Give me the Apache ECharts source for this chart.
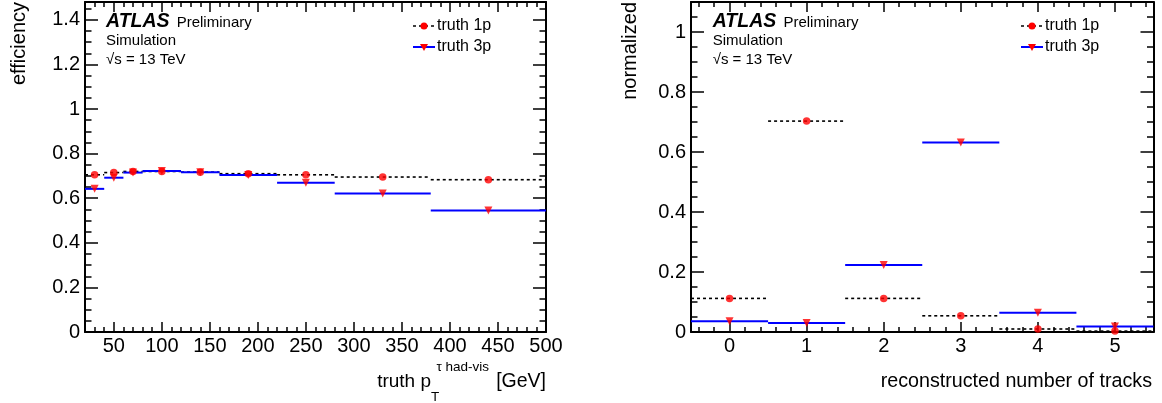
<!DOCTYPE html>
<html style="height: 100%">
<head>
    <meta charset="UTF-8">
    <script type="text/javascript" src="https://cdn.jsdelivr.net/npm/echarts@6/dist/echarts.min.js"></script>
    <style type="text/css">
        body {margin:0; padding:0; overflow:hidden; height: 100%; background: #fff}
    </style>
</head>
<body>
<div id="container" style="width:1162px;height:403px"></div>
<script>
    // left panel: efficiency vs truth pT
    var ptEdges = [20, 40, 60, 80, 120, 160, 220, 280, 380, 500];
    var ptCenters = [30, 50, 70, 100, 140, 190, 250, 330, 440];
    var eff1p = [0.705, 0.715, 0.72, 0.72, 0.717, 0.71, 0.705, 0.695, 0.683];
    var eff3p = [0.642, 0.692, 0.715, 0.722, 0.717, 0.704, 0.669, 0.621, 0.545];

    // right panel: normalized number of reconstructed tracks
    var trkEdges = [-0.5, 0.5, 1.5, 2.5, 3.5, 4.5, 5.5];
    var trkCenters = [0, 1, 2, 3, 4, 5];
    var norm1p = [0.112, 0.703, 0.112, 0.054, 0.01, 0.003];
    var norm3p = [0.036, 0.03, 0.223, 0.632, 0.064, 0.018];

    // ticks
    var ptMajor = [50, 100, 150, 200, 250, 300, 350, 400, 450, 500];
    var effMajor = [0, 0.2, 0.4, 0.6, 0.8, 1, 1.2, 1.4];
    var trkMajor = [0, 1, 2, 3, 4, 5];
    var normMajor = [0, 0.2, 0.4, 0.6, 0.8, 1];

    function steps(a, b, s) {
        var out = [];
        for (var i = 0; a + i * s <= b + 1e-9; i++) out.push(+(a + i * s).toFixed(4));
        return out;
    }
    var ptMinor = steps(30, 490, 10);
    var effMinor = steps(0, 1.45, 0.05);
    var trkMinor = steps(-0.4, 5.4, 0.2);
    var normMinor = steps(0, 1.1, 0.05);

    var FONT = '"Liberation Sans", Arial, sans-serif';

    function bins(edges, vals) {
        return vals.map(function (v, i) { return [edges[i], edges[i + 1], v]; });
    }
    function pts(xs, vals) {
        return vals.map(function (v, i) { return [xs[i], v]; });
    }
    function binRender(style) {
        return function (params, api) {
            var p0 = api.coord([api.value(0), api.value(2)]);
            var p1 = api.coord([api.value(1), api.value(2)]);
            return {type: 'line', shape: {x1: p0[0], y1: p0[1], x2: p1[0], y2: p1[1]}, style: style};
        };
    }
    var dashStyle = {stroke: '#000', lineWidth: 1.6, lineDash: [3, 3]};
    var blueStyle = {stroke: '#0000ff', lineWidth: 2};

    function xAxes(grid, min, max, major, minor) {
        var base = {gridIndex: grid, type: 'value', min: min, max: max, splitLine: {show: false}};
        return [
            Object.assign({}, base, {position: 'bottom',
                axisLine: {show: true, onZero: false, lineStyle: {color: '#000', width: 2}},
                axisTick: {show: true, inside: true, length: 10, customValues: major, lineStyle: {color: '#000', width: 1.5}},
                axisLabel: {show: true, customValues: major, color: '#000', fontSize: 20, fontFamily: FONT, margin: 4}}),
            Object.assign({}, base, {position: 'bottom',
                axisLine: {show: false, onZero: false},
                axisTick: {show: true, inside: true, length: 5, customValues: minor, lineStyle: {color: '#000', width: 1.5}},
                axisLabel: {show: false}}),
            Object.assign({}, base, {position: 'top',
                axisLine: {show: true, onZero: false, lineStyle: {color: '#000', width: 2}},
                axisTick: {show: true, inside: true, length: 10, customValues: major, lineStyle: {color: '#000', width: 1.5}},
                axisLabel: {show: false}}),
            Object.assign({}, base, {position: 'top',
                axisLine: {show: false, onZero: false},
                axisTick: {show: true, inside: true, length: 5, customValues: minor, lineStyle: {color: '#000', width: 1.5}},
                axisLabel: {show: false}})
        ];
    }
    function yAxes(grid, min, max, major, minor) {
        var base = {gridIndex: grid, type: 'value', min: min, max: max, splitLine: {show: false}};
        return [
            Object.assign({}, base, {position: 'left',
                axisLine: {show: true, onZero: false, lineStyle: {color: '#000', width: 2}},
                axisTick: {show: true, inside: true, length: 13, customValues: major, lineStyle: {color: '#000', width: 1.5}},
                axisLabel: {show: true, customValues: major, color: '#000', fontSize: 20, fontFamily: FONT, margin: 5}}),
            Object.assign({}, base, {position: 'left',
                axisLine: {show: false, onZero: false},
                axisTick: {show: true, inside: true, length: 6.5, customValues: minor, lineStyle: {color: '#000', width: 1.5}},
                axisLabel: {show: false}}),
            Object.assign({}, base, {position: 'right',
                axisLine: {show: true, onZero: false, lineStyle: {color: '#000', width: 2}},
                axisTick: {show: true, inside: true, length: 13, customValues: major, lineStyle: {color: '#000', width: 1.5}},
                axisLabel: {show: false}}),
            Object.assign({}, base, {position: 'right',
                axisLine: {show: false, onZero: false},
                axisTick: {show: true, inside: true, length: 6.5, customValues: minor, lineStyle: {color: '#000', width: 1.5}},
                axisLabel: {show: false}})
        ];
    }

    function txt(x, y, text, size, extra) {
        return {type: 'text', x: x, y: y, z: 100, style: Object.assign({
            text: text, fontSize: size, fontFamily: FONT, fill: '#000',
            align: 'left', verticalAlign: 'middle'}, extra || {})};
    }
    function atlasLabel(x) {
        return [
            txt(x, 21.5, 'ATLAS', 19.5, {fontWeight: 'bold', fontStyle: 'italic'}),
            txt(x + 70.7, 22.5, 'Preliminary', 15),
            txt(x, 41.3, 'Simulation', 15),
            txt(x, 59.7, '√s = 13 TeV', 15)
        ];
    }
    function legend(x) {
        return [
            {type: 'line', z: 100, shape: {x1: x, y1: 26, x2: x + 22, y2: 26}, style: {stroke: '#000', lineWidth: 1.6, lineDash: [3, 3]}},
            {type: 'circle', z: 101, shape: {cx: x + 11, cy: 26, r: 3.5}, style: {fill: '#ff0000'}},
            txt(x + 24, 26, 'truth 1p', 16),
            {type: 'line', z: 100, shape: {x1: x, y1: 47, x2: x + 22, y2: 47}, style: {stroke: '#0000ff', lineWidth: 2}},
            {type: 'polygon', z: 101, shape: {points: [[x + 7, 44], [x + 15, 44], [x + 11, 51]]}, style: {fill: '#ff0000'}},
            txt(x + 24, 47, 'truth 3p', 16)
        ];
    }

    var graphics = [].concat(
        atlasLabel(106), atlasLabel(712.7), legend(413), legend(1021),
        [
            {type: 'text', x: 19.5, y: 2, rotation: Math.PI / 2, z: 100,
                style: {text: 'efficiency', fontSize: 20, fontFamily: FONT, fill: '#000', align: 'right', verticalAlign: 'middle'}},
            {type: 'text', x: 630, y: 2, rotation: Math.PI / 2, z: 100,
                style: {text: 'normalized', fontSize: 20, fontFamily: FONT, fill: '#000', align: 'right', verticalAlign: 'middle'}},
            txt(546, 382, '[GeV]', 19.5, {align: 'right'}),
            txt(489, 367, 'τ had-vis', 13.5, {align: 'right'}),
            txt(431, 397, 'T', 13.5),
            txt(431, 382, 'truth p', 19, {align: 'right'}),
            txt(1152, 382, 'reconstructed number of tracks', 19.7, {align: 'right'})
        ]
    );

    var myChart = echarts.init(document.getElementById('container'));
    var option = {
        animation: false,
        backgroundColor: '#fff',
        grid: [
            {left: 85, right: 616, top: 2, bottom: 71},
            {left: 691, right: 8.5, top: 2, bottom: 71}
        ],
        xAxis: xAxes(0, 20, 500, ptMajor, ptMinor).concat(xAxes(1, -0.5, 5.5, trkMajor, trkMinor)),
        yAxis: yAxes(0, 0, 1.48, effMajor, effMinor).concat(yAxes(1, 0, 1.1, normMajor, normMinor)),
        series: [
            {type: 'custom', name: 'truth 1p', xAxisIndex: 0, yAxisIndex: 0, clip: true,
                renderItem: binRender(dashStyle), encode: {x: [0, 1], y: 2}, data: bins(ptEdges, eff1p)},
            {type: 'custom', name: 'truth 3p', xAxisIndex: 0, yAxisIndex: 0, clip: true,
                renderItem: binRender(blueStyle), encode: {x: [0, 1], y: 2}, data: bins(ptEdges, eff3p)},
            {type: 'scatter', xAxisIndex: 0, yAxisIndex: 0, symbol: 'circle', symbolSize: 7.5,
                itemStyle: {color: '#ff0000'}, z: 5, data: pts(ptCenters, eff1p)},
            {type: 'scatter', xAxisIndex: 0, yAxisIndex: 0, symbol: 'triangle', symbolRotate: 180, symbolSize: 8,
                itemStyle: {color: '#ff0000'}, z: 5, data: pts(ptCenters, eff3p)},

            {type: 'custom', name: 'truth 1p', xAxisIndex: 4, yAxisIndex: 4, clip: true,
                renderItem: binRender(dashStyle), encode: {x: [0, 1], y: 2}, data: bins(trkEdges, norm1p)},
            {type: 'custom', name: 'truth 3p', xAxisIndex: 4, yAxisIndex: 4, clip: true,
                renderItem: binRender(blueStyle), encode: {x: [0, 1], y: 2}, data: bins(trkEdges, norm3p)},
            {type: 'scatter', xAxisIndex: 4, yAxisIndex: 4, symbol: 'circle', symbolSize: 7.5,
                itemStyle: {color: '#ff0000'}, z: 5, data: pts(trkCenters, norm1p)},
            {type: 'scatter', xAxisIndex: 4, yAxisIndex: 4, symbol: 'triangle', symbolRotate: 180, symbolSize: 8,
                itemStyle: {color: '#ff0000'}, z: 5, data: pts(trkCenters, norm3p)}
        ],
        graphic: graphics
    };
    myChart.setOption(option);
</script>
</body>
</html>
